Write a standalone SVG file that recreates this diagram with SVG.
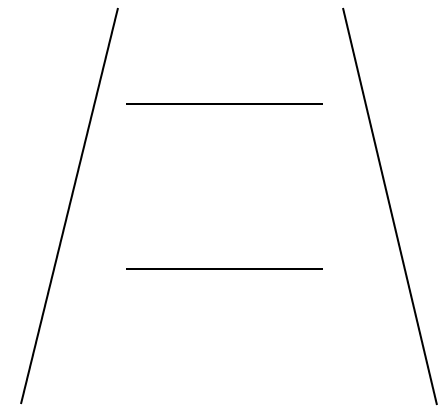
<svg xmlns="http://www.w3.org/2000/svg" width="439" height="408" viewBox="0 0 439 408">
<style>line{stroke:#000;stroke-width:2;fill:none}</style>
<rect width="439" height="408" fill="#fff"/>
<g id="connectors">
<line x1="118" y1="8" x2="21" y2="404"/>
<line x1="343" y1="8" x2="437" y2="405"/>
<line x1="126" y1="104" x2="323" y2="104"/>
<line x1="126" y1="269" x2="323" y2="269"/>
</g>
</svg>
